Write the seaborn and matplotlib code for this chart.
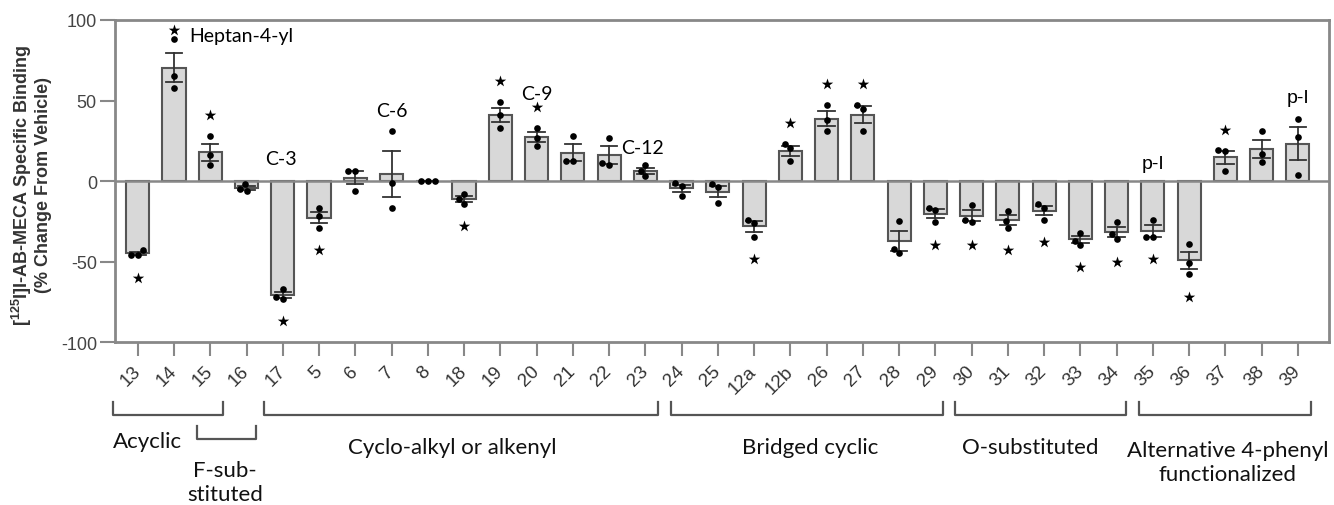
import numpy as np
import pandas as pd
import matplotlib
matplotlib.use("Agg")
import matplotlib.pyplot as plt
import matplotlib.transforms as mtransforms
import seaborn as sns

# compound labels along the x axis
compounds = ["13", "14", "15", "16", "17", "5", "6", "7", "8", "18", "19",
             "20", "21", "22", "23", "24", "25", "12a", "12b", "26", "27",
             "28", "29", "30", "31", "32", "33", "34", "35", "36", "37",
             "38", "39"]

# three replicate values per compound (% change from vehicle)
rep1 = [-43, 88, 28, -2, -67, -17, 6, 31, 0, -8, 49, 33, 28, 27, 10, -1.5,
        -2, -24, 23, 47, 47.5, -25, -17, -15, -18.5, -14.5, -32, -25.5, -24,
        -39, 19, 31, 38.5]
rep2 = [-46, 65, 16, -5, -72, -22, 6, -1, 0, -11, 41, 27, 12.5, 10, 6, -3,
        -4, -26, 20.5, 38, 45, -42, -18, -24, -25, -16.5, -37, -33, -34.5,
        -51, 18.5, 17, 27.5]
rep3 = [-46, 58, 10, -6, -73, -29, -6, -17, 0, -14, 33, 22, 12.5, 11, 3, -9,
        -13.5, -34.5, 12.5, 31, 31, -45, -25.5, -25.6, -29, -24, -39.5, -36,
        -34.5, -58, 6.5, 12, 3.5]

# compounds marked with a star
significant = ["13", "14", "15", "17", "5", "18", "19", "20", "12a", "12b",
               "26", "27", "29", "30", "31", "32", "33", "34", "35", "36", "37"]

# text labels above particular compounds
note_text = ["Heptan-4-yl", "C-3", "C-6", "C-9", "C-12", "p-I", "p-I"]
note_compound = ["14", "17", "7", "20", "23", "35", "39"]

# compound groups under the axis
group_names = ["Acyclic", "F-sub-\nstituted", "Cyclo-alkyl or alkenyl",
               "Bridged cyclic", "O-substituted",
               "Alternative 4-phenyl\nfunctionalized"]
group_first = ["13", "15", "17", "24", "30", "35"]
group_last = ["15", "16", "23", "29", "34", "39"]

df = pd.DataFrame({
    "compound": np.repeat(compounds, 3),
    "value": np.column_stack([rep1, rep2, rep3]).ravel(),
})

plt.rcParams["font.family"] = ["Liberation Sans", "DejaVu Sans"]
plt.rcParams["axes.unicode_minus"] = False
plt.rcParams["mathtext.fontset"] = "custom"
plt.rcParams["mathtext.rm"] = "Liberation Sans"
plt.rcParams["mathtext.bf"] = "Liberation Sans:bold"

fig = plt.figure(figsize=(13.34, 5.06), dpi=100)
ax = fig.add_axes([0.0862, 0.322, 0.9101, 0.6365])

frame = "#888888"
sns.barplot(data=df, x="compound", y="value", order=compounds,
            errorbar="se", capsize=0.45, saturation=1,
            color="#d8d8d8", edgecolor="#555555", linewidth=1.5, width=0.64,
            err_kws={"color": "#333333", "linewidth": 1.3}, ax=ax)
ax.axhline(0, color=frame, lw=1.8, zorder=1.5)
sns.swarmplot(data=df, x="compound", y="value", order=compounds,
              color="black", size=4.8, zorder=3, ax=ax)

# stars beyond the outermost replicate
vals = np.column_stack([rep1, rep2, rep3])
means = vals.mean(axis=1)
sx, sy = [], []
for i, c in enumerate(compounds):
    if c in significant:
        if means[i] > 0:
            sy.append(min(vals[i].max() + 13, 94))
        else:
            sy.append(vals[i].min() - 14)
        sx.append(i)
ax.scatter(sx, sy, marker="*", s=75, color="black", zorder=4, linewidths=0)

# labels above bars
note_pos = {"Heptan-4-yl": (0.43, 90.5, "left"), "C-3": (-0.05, 13.7, "center"),
            "C-6": (0.0, 43.7, "center"), "C-9": (0.0, 54.3, "center"),
            "C-12": (-0.07, 21, "center")}
pi_y = [10.6, 51.9]
k = 0
for txt, comp in zip(note_text, note_compound):
    i = compounds.index(comp)
    if txt == "p-I":
        ax.text(i, pi_y[k], txt, ha="center", va="center", fontsize=14,
                family=["Liberation Sans"])
        k += 1
    else:
        dx, y, ha = note_pos[txt]
        ax.text(i + dx, y, txt, ha=ha, va="center", fontsize=14,
                family=["Lato", "DejaVu Sans"])

ax.set_xlim(-0.63, 32.86)
ax.set_ylim(-100, 100)
ax.set_yticks([-100, -50, 0, 50, 100])
ax.set_xlabel("")
ax.set_ylabel("[$\\mathbf{^{125}}$I]I-AB-MECA Specific Binding\n(% Change From Vehicle)",
              fontsize=13, fontweight="bold", color="#333333", linespacing=1.05)
ax.yaxis.set_label_coords(-0.052, 0.49)

for s in ax.spines.values():
    s.set_color(frame)
    s.set_linewidth(2)
ax.tick_params(axis="y", length=11, width=1.5, color=frame, pad=2,
               labelsize=13, labelcolor="#444444")
ax.tick_params(axis="x", length=10, width=1.5, color=frame, pad=9,
               labelsize=13.5, labelcolor="#333333")
ax.set_xticks(range(len(compounds)))
ax.set_xticklabels(compounds, rotation=45, ha="right", va="center",
                   rotation_mode="anchor")

# group brackets
trans = mtransforms.blended_transform_factory(ax.transData, ax.transAxes)
spans = [(-0.69, 2.34, 0), (1.63, 3.26, 1), (3.48, 14.34, 0),
         (14.70, 22.21, 0), (22.54, 27.26, 0), (27.61, 32.36, 0)]
text_pos = [(0.26, -0.307), (2.4, -0.436), (8.66, -0.326), (18.54, -0.326),
            (24.63, -0.326), (30.07, -0.371)]
for name, (x0, x1, lev), (tx, ty) in zip(group_names, spans, text_pos):
    top = -0.186 - lev * 0.075
    bot = top - 0.041
    ax.plot([x0, x0, x1, x1], [top, bot, bot, top], color="#555555", lw=1.6,
            transform=trans, clip_on=False)
    ax.text(tx, ty, name, transform=trans, ha="center", va="center",
            fontsize=16, family=["Lato", "DejaVu Sans"], linespacing=1.25,
            color="#111111")

fig.savefig("out.png", dpi=100)
